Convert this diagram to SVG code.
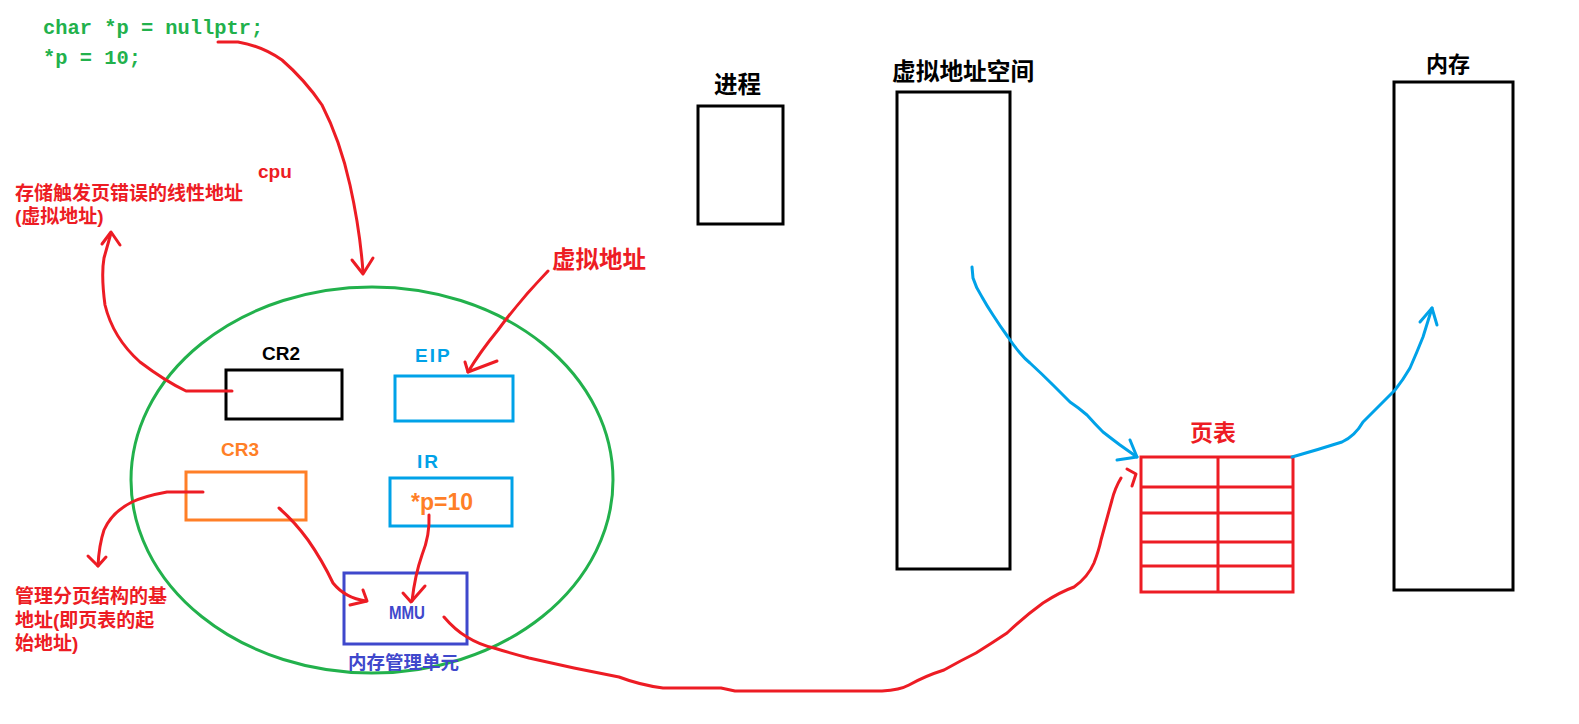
<svg xmlns="http://www.w3.org/2000/svg" width="1579" height="724" viewBox="0 0 1579 724">
<style>
.code{font-family:"Liberation Mono","DejaVu Sans Mono",monospace;font-weight:bold;font-size:20.4px;fill:#22b14c}
.cn{font-family:"Liberation Sans","Noto Sans CJK SC",sans-serif;font-weight:bold}
.lbl{font-family:"Liberation Sans","Noto Sans CJK SC",sans-serif;font-weight:bold}
.red{fill:#ed1c24}
.box{fill:none;stroke-width:3}
.rl{fill:none;stroke:#ed1c24;stroke-width:3;stroke-linecap:round;stroke-linejoin:round}
.bl{fill:none;stroke:#00a2e8;stroke-width:3;stroke-linecap:round;stroke-linejoin:round}
</style>
<rect width="1579" height="724" fill="#fff"/>
<g id="code">
<text class="code" x="43" y="34">char *p = nullptr;</text>
<text class="code" x="43" y="64">*p = 10;</text>
</g>
<g id="cpu-label"><text class="lbl red" x="258" y="178" font-size="19">cpu</text></g>
<g id="note-cr2">
<text class="cn red" x="15" y="200" font-size="19">存储触发页错误的线性地址</text>
<text class="cn red" x="15" y="223" font-size="19">(虚拟地址)</text>
</g>
<g id="note-cr3">
<text class="cn red" x="15" y="603" font-size="19">管理分页结构的基</text>
<text class="cn red" x="15" y="627" font-size="19">地址(即页表的起</text>
<text class="cn red" x="15" y="650" font-size="19">始地址)</text>
</g>
<g id="cpu"><ellipse cx="372" cy="480" rx="241" ry="193" fill="none" stroke="#22b14c" stroke-width="3"/></g>
<g id="cr2">
<rect class="box" x="226" y="370" width="116" height="49" stroke="#000"/>
<text class="lbl" x="262" y="360" font-size="19" fill="#000">CR2</text>
</g>
<g id="eip">
<rect class="box" x="395" y="376" width="118" height="45" stroke="#00a2e8"/>
<text class="lbl" x="415" y="362" font-size="19" fill="#00a2e8" letter-spacing="2">EIP</text>
</g>
<g id="cr3">
<rect class="box" x="186" y="472" width="120" height="48" stroke="#ff7f27"/>
<text class="lbl" x="221" y="456" font-size="19" fill="#ff7f27">CR3</text>
</g>
<g id="ir">
<rect class="box" x="390" y="478" width="122" height="48" stroke="#00a2e8"/>
<text class="lbl" x="417" y="468" font-size="19" fill="#00a2e8" letter-spacing="2">IR</text>
<text class="lbl" x="411" y="510" font-size="23" fill="#ff7f27">*p=10</text>
</g>
<g id="mmu">
<rect class="box" x="344" y="573" width="123" height="71" stroke="#3f48cc"/>
<text class="lbl" x="389" y="619" font-size="19" fill="#3f48cc" textLength="36" lengthAdjust="spacingAndGlyphs">MMU</text>
<text class="cn" x="348" y="669" font-size="18.5" fill="#3f48cc">内存管理单元</text>
</g>
<g id="va-label"><text class="cn red" x="552" y="268" font-size="23.5">虚拟地址</text></g>
<g id="process">
<rect class="box" x="698" y="106" width="85" height="118" stroke="#000"/>
<text class="cn" x="714" y="93" font-size="23.5" fill="#000">进程</text>
</g>
<g id="vspace">
<rect class="box" x="897" y="92" width="113" height="477" stroke="#000"/>
<text class="cn" x="892" y="80" font-size="23.7" fill="#000">虚拟地址空间</text>
</g>
<g id="memory">
<rect class="box" x="1394" y="82" width="119" height="508" stroke="#000"/>
<text class="cn" x="1426" y="72" font-size="22" fill="#000">内存</text>
</g>
<g id="pagetable">
<text class="cn red" x="1190" y="441" font-size="23">页表</text>
<rect class="box" x="1141" y="457" width="152" height="135" stroke="#ed1c24"/>
<path d="M1218 457V592M1141 487H1293M1141 513H1293M1141 542H1293M1141 566H1293" stroke="#ed1c24" stroke-width="3" fill="none"/>
</g>
<g id="connectors">
<path class="rl" d="M218 42 L238 42 Q262 46 282 60 Q305 80 322 105 Q340 140 350 185 Q360 230 363 272"/>
<path class="rl" d="M352 260 L363 274 L373 258"/>
<path class="rl" d="M232 391 L186 391 Q165 381 140 362 Q113 338 105 305 Q101 275 104 258 L111 233"/>
<path class="rl" d="M102 244 L111 232 L120 245"/>
<path class="rl" d="M203 492 L167 492 Q145 496 132 502 Q112 512 104 530 Q99 545 98 566"/>
<path class="rl" d="M88 556 L98 566 L106 557"/>
<path class="rl" d="M548 271 Q520 300 498 330 Q480 352 468 372"/>
<path class="rl" d="M465 362 L468 372 L497 361"/>
<path class="rl" d="M279 508 Q295 522 308 540 Q322 560 333 583 Q345 598 366 601"/>
<path class="rl" d="M363 590 L367 601 L350 605"/>
<path class="rl" d="M429 515 Q430 535 422 555 Q415 575 412 601"/>
<path class="rl" d="M403 593 L411 602 L425 586"/>
<path class="rl" d="M444 617 Q455 630 467 637 Q480 645 494 648 Q510 653 529 658 L574 668 L619 677 Q640 685 663 688 L721 688 L735 691 L882 691 Q900 690 909 685 Q925 676 944 670 Q960 661 976 653 Q992 643 1007 633 Q1025 616 1043 603 Q1060 592 1074 587 Q1088 577 1094 563 Q1099 550 1101 540 L1112 500 Q1115 488 1121 478"/>
<path class="rl" d="M1127 469 L1136 474 L1132 486"/>
<path class="bl" d="M972 267 L973 278 Q976 288 982 297 Q987 306 993 315 Q1000 326 1008 337 Q1014 346 1020 353 Q1025 359 1030 363 Q1042 374 1053 385 Q1062 394 1070 402 Q1079 408 1087 415 Q1095 424 1103 432 Q1112 439 1120 445 L1137 457"/>
<path class="bl" d="M1117 460 L1137 457 L1130 440"/>
<path class="bl" d="M1292 457 Q1317 450 1342 442 Q1355 436 1363 422 Q1380 405 1395 390 Q1403 380 1410 368 Q1417 352 1423 337 L1432 308"/>
<path class="bl" d="M1420 322 L1432 308 L1437 325"/>
</g>
</svg>
